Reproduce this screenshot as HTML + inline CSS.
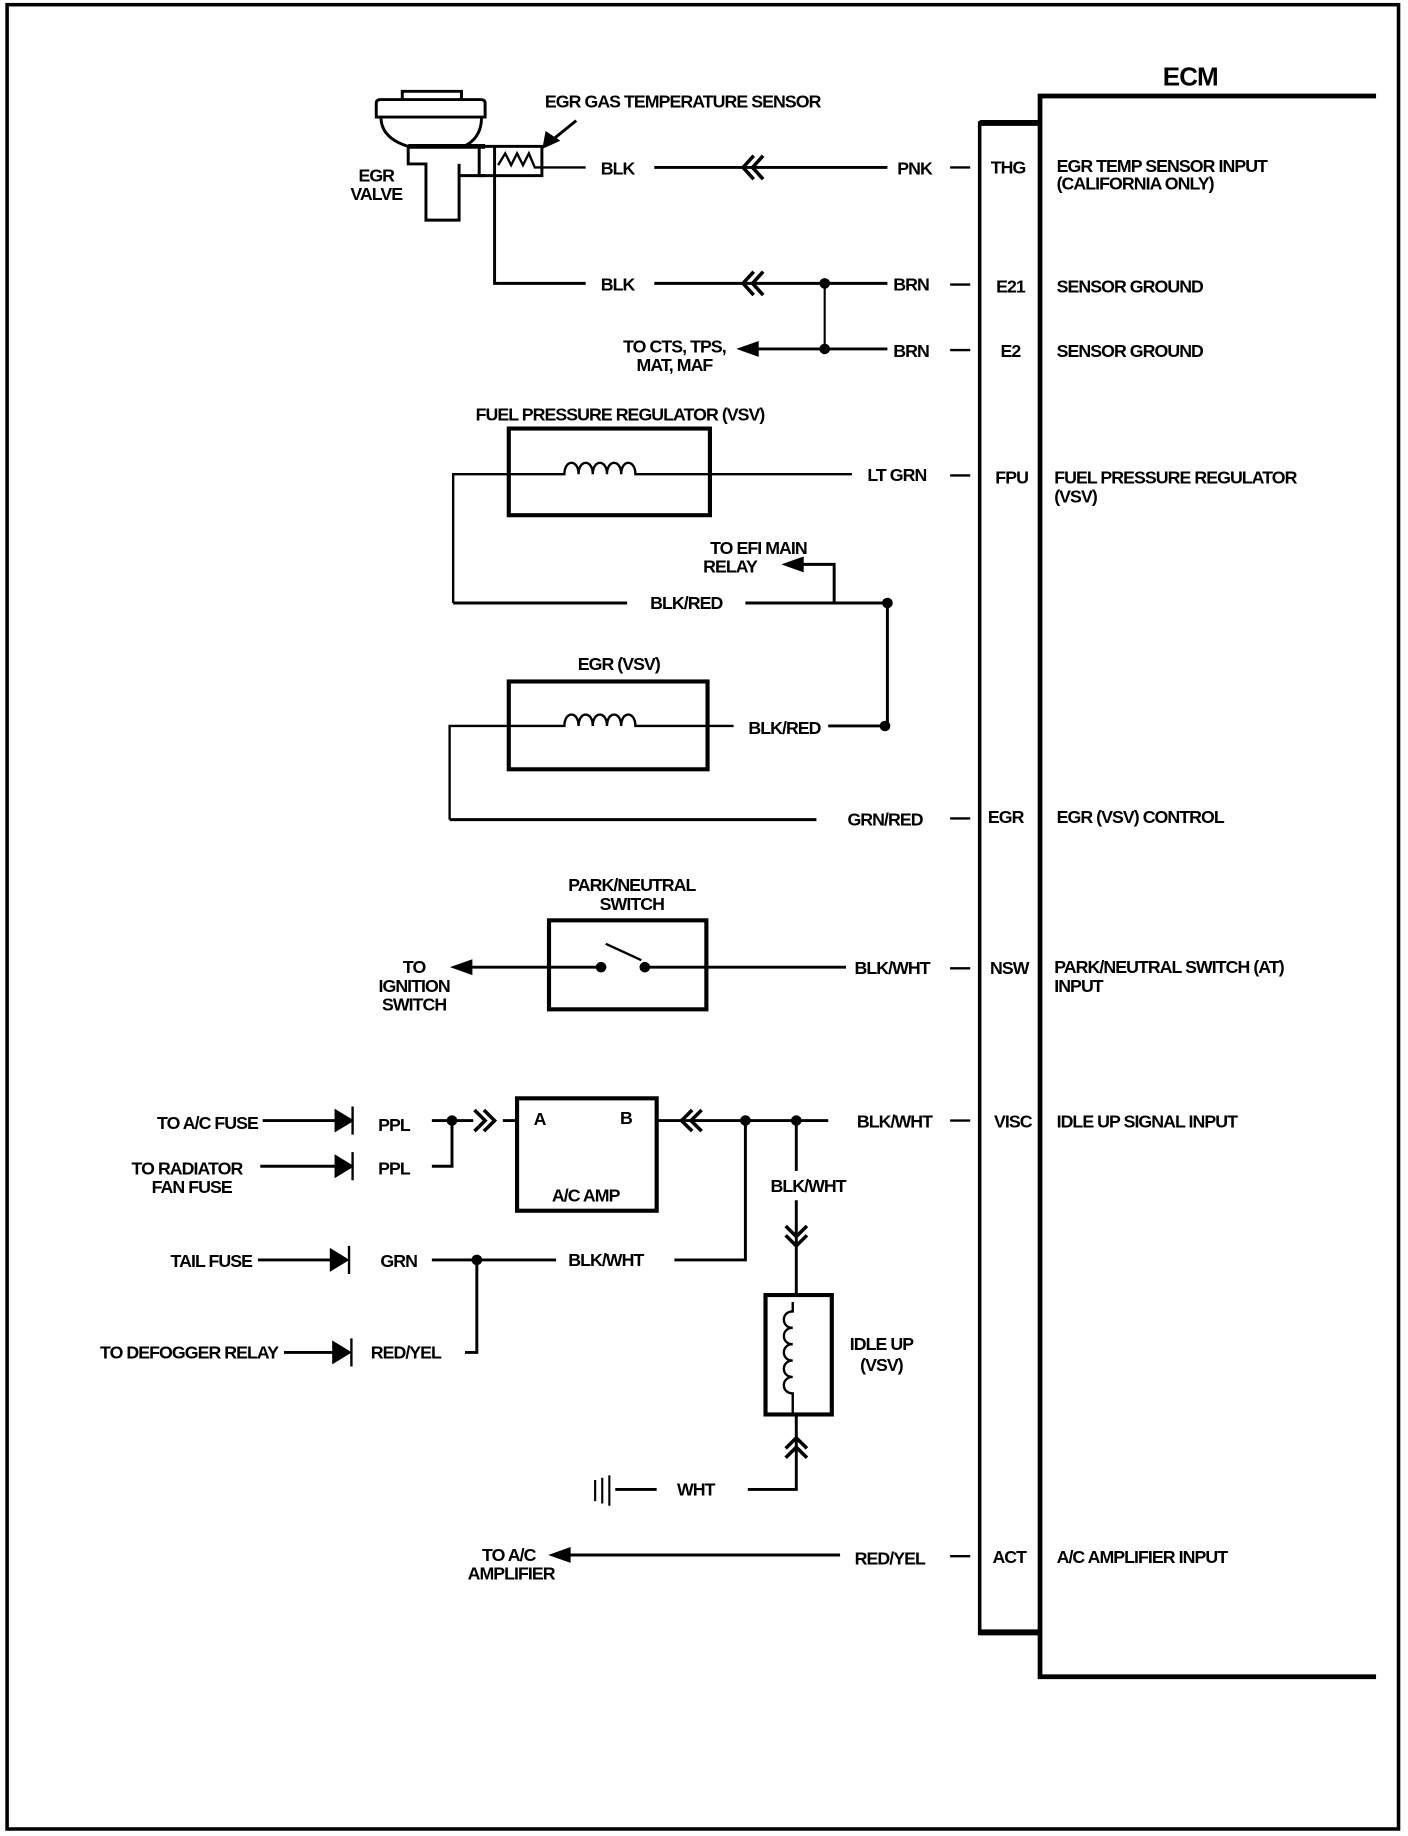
<!DOCTYPE html>
<html><head><meta charset="utf-8"><style>
html,body{margin:0;padding:0;background:#fff;}
svg{display:block;}
text{font-family:"Liberation Sans",sans-serif;font-weight:bold;font-size:15px;letter-spacing:-0.8px;fill:#000;}
.m{text-anchor:middle;}
.e{text-anchor:end;}
</style></head><body>
<svg width="1408" height="1836" viewBox="0 0 1190 1568" preserveAspectRatio="none" xmlns="http://www.w3.org/2000/svg">
<g fill="none" stroke="#000" stroke-width="2.5">
<rect x="6" y="4" width="1176" height="1558" stroke-width="3"/>
<path d="M1163 82 H879 V1432 H1163" stroke-width="4"/>
<path d="M879 105 H828 V1395 H879" stroke-width="3"/>
<path d="M828 105 H879" stroke-width="5"/>
<path d="M828 1394 H879" stroke-width="5"/>
<path d="M803 143 H820 M803 243 H820 M803 299 H820 M803 406 H820 M803 699 H820 M803 827 H820 M803 957 H820 M803 1329 H820" stroke-width="2"/>

<path d="M340 86 V78 H390 V86" stroke-width="2.5"/>
<path d="M318 100 V88 Q318 85 322 85 H406 Q410 85 410 88 V100 Z" stroke-width="2.5"/>
<path d="M322 100 Q322 118 345 125 H392 Q407 118 407 100" stroke-width="2.5"/>
<path d="M345 125 H410" stroke-width="4"/>
<path d="M345 125 V140 H360 V188 H388 V140 M388 150 H410" stroke-width="2.5"/>
<rect x="405" y="125" width="53" height="25" stroke-width="2.5"/>
<path d="M418 125 V242 H495" stroke-width="2.5"/>
<path d="M421 141 L427 131 L432 141 L437 131 L442 141 L447 131 L452 143 H458 H495" stroke-width="2"/>
<path d="M487 103 L465 121"/>
<path d="M460 125 L462 114 L471 120 Z" fill="#000"/>
<path d="M553 143 H750"/>
<path d="M637 133 L628 143 L637 153 M645 133 L636 143 L645 153" stroke-width="3"/>
<path d="M553 242 H750"/>
<path d="M637 232 L628 242 L637 252 M645 232 L636 242 L645 252" stroke-width="3"/>
<path d="M697 242 V298" stroke-width="1.8"/>
<path d="M636 298 H750"/>
<path d="M626 298 L640 293 L640 303 Z" fill="#000"/>

<rect x="430" y="366" width="170" height="74" stroke-width="3.5"/>
<path d="M383 515 V405 H477 C477 392 489 392 489 405 C489 392 501 392 501 405 C501 392 513 392 513 405 C513 392 525 392 525 405 C525 392 537 392 537 405 H545 H720" stroke-width="2"/>
<path d="M383 515 H530 M630 515 H750 V620 M705 515 V482 H675"/>
<path d="M664 482 L678 477 L678 487 Z" fill="#000"/>
<rect x="430" y="582" width="168" height="75" stroke-width="3.5"/>
<path d="M380 700 V620 H477 C477 607 489 607 489 620 C489 607 501 607 501 620 C501 607 513 607 513 620 C513 607 525 607 525 620 C525 607 537 607 537 620 H545 H620" stroke-width="2"/>
<path d="M700 620 H748"/>
<path d="M380 700 H690"/>

<rect x="464" y="786" width="133" height="76" stroke-width="3.5"/>
<path d="M395 826 H505 M548 826 H715"/>
<path d="M512 806 L542 820" stroke-width="2"/>
<path d="M384 826 L398 821 L398 831 Z" fill="#000"/>

<rect x="437" y="938" width="118" height="96" stroke-width="3.5"/>
<path d="M222 957 H290 M220 996 H290 M218 1076 H287 M240 1155 H287"/>
<path d="M284 949 L297 957 L284 965 Z M284 988 L297 996 L284 1004 Z M280 1068 L293 1076 L280 1084 Z M282 1147 L295 1155 L282 1163 Z" fill="#000"/>
<path d="M298 945 V969 M298 984 V1008 M295 1064 V1088 M297 1143 V1167" stroke-width="2"/>
<path d="M365 957 H400 M425 957 H437 M382 957 V996 H365" />
<path d="M401 948 L410 957 L401 966 M409 948 L418 957 L409 966" stroke-width="3"/>
<path d="M555 957 H700"/>
<path d="M585 948 L576 957 L585 966 M593 948 L584 957 L593 966" stroke-width="3"/>
<path d="M630 957 V1076 H570 M470 1076 H365 M403 1076 V1155 H393" />
<path d="M673 957 V1000 M673 1025 V1106 M673 1208 V1272 H632 M555 1272 H520"/>
<path d="M664 1047 L673 1056 L682 1047 M664 1055 L673 1064 L682 1055" stroke-width="3"/>
<path d="M664 1245 L673 1236 L682 1245 M664 1237 L673 1228 L682 1237" stroke-width="3"/>
<rect x="647" y="1106" width="56" height="102" stroke-width="3.5"/>
<path d="M670 1112 V1120 C660 1120 660 1134 670 1134 C660 1134 660 1148 670 1148 C660 1148 660 1162 670 1162 C660 1162 660 1176 670 1176 C660 1176 660 1190 670 1190 V1208" stroke-width="2"/>
<path d="M503 1264 V1282 M509 1262 V1284 M515 1260 V1286" stroke-width="1.8"/>
<path d="M478 1328 H710"/>
<path d="M467 1328 L481 1323 L481 1333 Z" fill="#000"/>
</g>
<g fill="#000">
<circle cx="697" cy="242" r="4.5"/><circle cx="697" cy="298" r="4.5"/>
<circle cx="750" cy="515" r="4.5"/><circle cx="748" cy="620" r="4.5"/>
<circle cx="508" cy="826" r="4.5"/><circle cx="545" cy="826" r="4.5"/>
<circle cx="382" cy="957" r="4.5"/><circle cx="630" cy="957" r="4.5"/><circle cx="673" cy="957" r="4.5"/>
<circle cx="403" cy="1076" r="4.5"/>
</g>

<text x="1006" y="73" class="m" style="font-size:22px">ECM</text>
<text x="852" y="148" class="m">THG</text>
<text x="854" y="250" class="m">E21</text>
<text x="854" y="305" class="m">E2</text>
<text x="855" y="413" class="m">FPU</text>
<text x="850" y="703" class="m">EGR</text>
<text x="853" y="832" class="m">NSW</text>
<text x="856" y="963" class="m">VISC</text>
<text x="853" y="1335" class="m">ACT</text>
<text x="893" y="147">EGR TEMP SENSOR INPUT</text>
<text x="893" y="162">(CALIFORNIA ONLY)</text>
<text x="893" y="250">SENSOR GROUND</text>
<text x="893" y="305">SENSOR GROUND</text>
<text x="891" y="413">FUEL PRESSURE REGULATOR</text>
<text x="891" y="429">(VSV)</text>
<text x="893" y="703">EGR  (VSV) CONTROL</text>
<text x="891" y="831">PARK/NEUTRAL SWITCH (AT)</text>
<text x="891" y="847">INPUT</text>
<text x="893" y="963">IDLE UP SIGNAL INPUT</text>
<text x="893" y="1335">A/C AMPLIFIER INPUT</text>
<text x="577" y="92" class="m">EGR GAS TEMPERATURE SENSOR</text>
<text x="318" y="155" class="m">EGR</text>
<text x="318" y="171" class="m">VALVE</text>
<text x="522" y="149" class="m">BLK</text>
<text x="773" y="149" class="m">PNK</text>
<text x="522" y="248" class="m">BLK</text>
<text x="770" y="248" class="m">BRN</text>
<text x="570" y="301" class="m">TO CTS, TPS,</text>
<text x="570" y="317" class="m">MAT, MAF</text>
<text x="770" y="305" class="m">BRN</text>
<text x="524" y="359" class="m">FUEL PRESSURE REGULATOR  (VSV)</text>
<text x="758" y="411" class="m">LT GRN</text>
<text x="641" y="473" class="m">TO EFI MAIN</text>
<text x="617" y="489" class="m">RELAY</text>
<text x="580" y="520" class="m">BLK/RED</text>
<text x="523" y="572" class="m">EGR (VSV)</text>
<text x="663" y="627" class="m">BLK/RED</text>
<text x="748" y="705" class="m">GRN/RED</text>
<text x="534" y="761" class="m">PARK/NEUTRAL</text>
<text x="534" y="777" class="m">SWITCH</text>
<text x="350" y="831" class="m">TO</text>
<text x="350" y="847" class="m">IGNITION</text>
<text x="350" y="863" class="m">SWITCH</text>
<text x="754" y="832" class="m">BLK/WHT</text>
<text x="218" y="964" class="e">TO A/C FUSE</text>
<text x="333" y="966" class="m">PPL</text>
<text x="158" y="1003" class="m">TO RADIATOR</text>
<text x="162" y="1019" class="m">FAN FUSE</text>
<text x="333" y="1003" class="m">PPL</text>
<text x="456" y="961" class="m">A</text>
<text x="529" y="960" class="m">B</text>
<text x="495" y="1026" class="m">A/C AMP</text>
<text x="756" y="963" class="m">BLK/WHT</text>
<text x="683" y="1018" class="m">BLK/WHT</text>
<text x="213" y="1082" class="e">TAIL FUSE</text>
<text x="337" y="1082" class="m">GRN</text>
<text x="512" y="1081" class="m">BLK/WHT</text>
<text x="235" y="1160" class="e">TO DEFOGGER RELAY</text>
<text x="343" y="1160" class="m">RED/YEL</text>
<text x="745" y="1153" class="m">IDLE UP</text>
<text x="745" y="1171" class="m">(VSV)</text>
<text x="588" y="1277" class="m">WHT</text>
<text x="430" y="1333" class="m">TO A/C</text>
<text x="432" y="1349" class="m">AMPLIFIER</text>
<text x="752" y="1336" class="m">RED/YEL</text>
</svg>
</body></html>
